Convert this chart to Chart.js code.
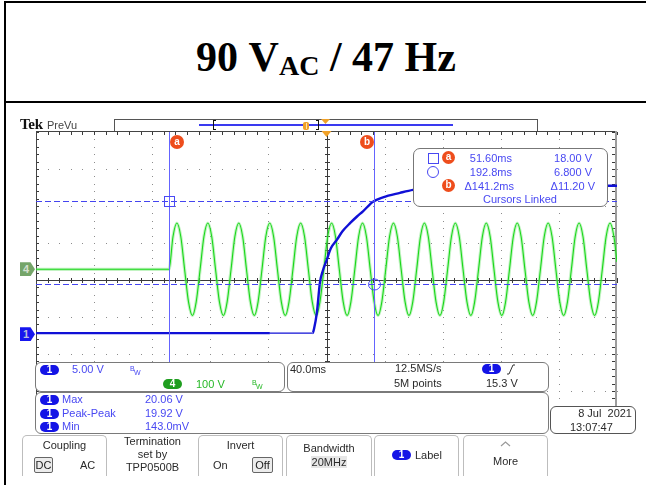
<!DOCTYPE html>
<html>
<head>
<meta charset="utf-8">
<script src="https://cdn.jsdelivr.net/npm/chart.js@4.4.1/dist/chart.umd.min.js"></script>
<style>
  html, body { margin: 0; padding: 0; background: #fff; width: 646px; height: 485px; overflow: hidden; }
  body { position: relative; font-family: "Liberation Sans", Arial, sans-serif; color: #333; }
  .abs { position: absolute; }
  .rule { position: absolute; background: #000; }
  #title { position: absolute; left: 6px; top: 8px; width: 640px; height: 98px; display: flex; align-items: center; justify-content: center;
           font-family: "Liberation Serif", "Times New Roman", serif; font-weight: bold; font-size: 42px; color: #000; white-space: nowrap; }
  #title .sub { font-size: 28px; position: relative; top: 9px; }
  #scope { position: absolute; left: 0; top: 0; }
  .t { position: absolute; font-size: 11px; line-height: 12px; white-space: nowrap; }
  .blue { color: #4848f2; }
  .green { color: #26b826; }
  .dark { color: #2a2a2a; }
  .pill { position: absolute; width: 19px; height: 10px; border-radius: 5px; background: #1414e6; color: #fff;
          font-size: 10px; line-height: 10px; text-align: center; font-weight: bold; }
  .pill.g { background: #1f9e1f; }
  .box { position: absolute; box-sizing: border-box; background: #fff; border: 1px solid #7a7a7a; border-radius: 6px; }
  .btn { position: absolute; box-sizing: border-box; top: 435px; height: 41px; border: 1.5px solid #bdbdbd; border-bottom: none;
         border-radius: 5px 5px 0 0; background: #fff; }
  .key { position: absolute; box-sizing: border-box; border: 1px solid #666; border-radius: 2px; background: #ececec;
         font-size: 11px; line-height: 14px; text-align: center; color: #222; }
  .bw { position: absolute; font-size: 7px; line-height: 7px; }
  .badge { position: absolute; width: 13px; height: 13px; border-radius: 50%; background: #ee4d1c; color: #fff;
           font-size: 10px; line-height: 12px; text-align: center; font-weight: bold; }
  .tag { position: absolute; left: 20px; width: 15px; height: 14px; font-size: 11px; line-height: 14px; text-indent: 3px; font-weight: bold;
         clip-path: polygon(0 0, 70% 0, 100% 50%, 70% 100%, 0 100%); }
</style>
</head>
<body>
<!-- page frame and heading -->
<div class="rule" style="left:4px;top:1px;width:2px;height:484px"></div>
<div class="rule" style="left:4px;top:1px;width:642px;height:2px"></div>
<div class="rule" style="left:4px;top:101px;width:642px;height:2px"></div>
<div id="title">90&nbsp;V<span class="sub">AC</span>&nbsp;/&nbsp;47&nbsp;Hz</div>

<canvas id="scope" width="646" height="485"></canvas>

<!-- header: logo and record overview bar -->
<div class="abs" style="left:20px;top:117px;font-family:'Liberation Serif',serif;font-weight:bold;font-size:15px;line-height:15px;color:#111;letter-spacing:-0.3px">Tek</div>
<div class="t dark" style="left:47px;top:119px;color:#444">PreVu</div>
<div class="abs" style="left:114px;top:119px;width:424px;height:12px;box-sizing:border-box;border:1px solid #555;border-bottom:none;background:#fff"></div>
<div class="abs" style="left:199px;top:124px;width:254px;height:1.5px;background:#3a3af0"></div>
<div class="abs" style="left:213px;top:120px;width:3px;height:10px;border:1.5px solid #111;border-right:none;box-sizing:border-box"></div>
<div class="abs" style="left:316px;top:120px;width:3px;height:10px;border:1.5px solid #111;border-left:none;box-sizing:border-box"></div>
<div class="abs" style="left:303px;top:122px;width:6px;height:8px;border-radius:2px;background:#f0a128"></div>
<div class="abs" style="left:305.5px;top:123px;width:1px;height:6px;background:#fde3b0"></div>
<svg class="abs" style="left:321px;top:119px" width="10" height="6"><polygon points="0,0 9,0 4.5,5" fill="#f0a128"/></svg>

<!-- channel ground markers (placed from the scales) -->
<div id="tag4" class="tag" style="background:#75a569;color:#d5e0d0">4</div>
<div id="tag1" class="tag" style="background:#1616ee;color:#b8bedc">1</div>

<!-- cursor readout -->
<div class="box" style="left:413px;top:148px;width:195px;height:59px;border:1.5px solid #777;border-radius:7px"></div>
<div class="abs" style="left:428px;top:153px;width:11px;height:11px;box-sizing:border-box;border:1px solid #4848f2"></div>
<div class="badge" style="left:442px;top:151px">a</div>
<div class="t blue" style="right:134px;top:152px" id="curT0"></div>
<div class="t blue" style="right:54px;top:152px" id="curV0"></div>
<div class="abs" style="left:427px;top:166px;width:12px;height:12px;box-sizing:border-box;border:1px solid #4848f2;border-radius:50%"></div>
<div class="t blue" style="right:134px;top:166px" id="curT1"></div>
<div class="t blue" style="right:54px;top:166px" id="curV1"></div>
<div class="badge" style="left:442px;top:179px">b</div>
<div class="t blue" style="right:132px;top:180px" id="curDT"></div>
<div class="t blue" style="right:51px;top:180px" id="curDV"></div>
<div class="t blue" style="left:483px;top:193px">Cursors Linked</div>

<!-- vertical / horizontal readouts -->
<div class="box" style="left:35px;top:362px;width:250px;height:30px"></div>
<div class="pill" style="left:40px;top:365px">1</div>
<div class="t blue" style="left:72px;top:363px" id="ch1Scale"></div>
<div class="bw blue" style="left:130px;top:365px">B</div><div class="bw blue" style="left:134px;top:369px">W</div>
<div class="pill g" style="left:163px;top:379px">4</div>
<div class="t green" style="left:196px;top:378px" id="ch4Scale"></div>
<div class="bw green" style="left:252px;top:379px">B</div><div class="bw green" style="left:256px;top:383px">W</div>

<div class="box" style="left:287px;top:362px;width:262px;height:30px"></div>
<div class="t dark" style="left:290px;top:363px" id="timeScale"></div>
<div class="t dark" style="left:395px;top:362px">12.5MS/s</div>
<div class="t dark" style="left:394px;top:377px">5M points</div>
<div class="pill" style="left:482px;top:364px">1</div>
<svg class="abs" style="left:506px;top:364px" width="10" height="11"><polyline points="1,10 3,10 7,1 9,1" fill="none" stroke="#333" stroke-width="1"/></svg>
<div class="t dark" style="left:486px;top:377px">15.3 V</div>

<div class="box" style="left:35px;top:392px;width:514px;height:42px"></div>
<div id="meas"></div>

<div class="box" style="left:550px;top:406px;width:86px;height:28px;border-color:#555"></div>
<div class="t dark" style="right:14px;top:407px">8 Jul&nbsp;&nbsp;2021</div>
<div class="t dark" style="left:570px;top:421px">13:07:47</div>

<!-- soft-key row -->
<div class="btn" style="left:22px;width:85px"></div>
<div class="t dark" style="left:22px;width:85px;text-align:center;top:439px">Coupling</div>
<div class="key" style="left:34px;top:457px;width:19px;height:16px">DC</div>
<div class="t dark" style="left:80px;top:459px">AC</div>

<div class="t dark" style="left:108px;width:89px;text-align:center;top:435px">Termination</div>
<div class="t dark" style="left:108px;width:89px;text-align:center;top:448px">set by</div>
<div class="t dark" style="left:108px;width:89px;text-align:center;top:461px">TPP0500B</div>

<div class="btn" style="left:198px;width:85px"></div>
<div class="t dark" style="left:198px;width:85px;text-align:center;top:439px">Invert</div>
<div class="t dark" style="left:213px;top:459px">On</div>
<div class="key" style="left:252px;top:457px;width:21px;height:16px">Off</div>

<div class="btn" style="left:286px;width:86px"></div>
<div class="t dark" style="left:286px;width:86px;text-align:center;top:442px">Bandwidth</div>
<div class="t dark" style="left:311px;width:36px;text-align:center;top:456px;background:#e6e6e6">20MHz</div>

<div class="btn" style="left:374px;width:85px"></div>
<div class="pill" style="left:392px;top:450px">1</div>
<div class="t dark" style="left:415px;top:449px">Label</div>

<div class="btn" style="left:463px;width:85px"></div>
<svg class="abs" style="left:500px;top:441px" width="11" height="6"><polyline points="1,5 5.5,1 10,5" fill="none" stroke="#999" stroke-width="1.2"/></svg>
<div class="t dark" style="left:463px;width:85px;text-align:center;top:455px">More</div>

<script>
// ---- acquisition settings ----
const timePerDiv = 40;            // ms/div
const timeStart = -40;            // ms at left graticule edge
const timeDivs = 10;
const voltDivs = 8;
const ch1PerDiv = 5;              // V/div
const ch4PerDiv = 100;            // V/div
const ch1Center = 7.32;           // V at graticule centre (channel 1 offset)
const ch4Center = -28.9;          // V at graticule centre (channel 4 offset)
const triggerTime = 160;          // ms

// ---- cursors ----
const cursorTimes = [51.6, 192.8];    // ms
const cursorVolts = [18.0, 6.8];      // V, channel 1

// ---- channel 1: converter output (V) ----
const ch1Time = [-40, 121, 150.5, 151.5, 153.3, 155.5, 157.5, 160.1, 163.0, 167.0, 171.0, 176.2, 181.0,
                 185.1, 192.0, 198.9, 210.6, 219.6, 235.0, 260.0, 300.0, 360.0];
const ch1Volt = [0.14, 0.14, 0.14, 0.8, 2.8, 7.0, 8.6, 10.0, 11.6, 12.7, 13.9, 15.0, 15.9,
                 16.6, 17.9, 18.5, 19.1, 19.5, 19.85, 20.0, 20.05, 20.06];
const ch1ThinFrom = 121, ch1ThinTo = 150.5;

// ---- channel 4: AC mains input (V) ----
const ch4Time = [
  -40, 51.6, 54.3,
  57.0, 59.7, 62.3, 65.0, 67.7, 70.3, 73.0, 75.6,
  78.3, 81.0, 83.6, 86.3, 89.0, 91.6, 94.3, 96.9,
  99.6, 102.3, 104.9, 107.6, 110.3, 112.9, 115.6, 118.2,
  120.9, 123.6, 126.2, 128.9, 131.6, 134.2, 136.9, 139.5,
  142.2, 144.9, 147.5, 150.2, 152.9, 155.5, 158.2, 160.8,
  163.5, 166.2, 168.8, 171.5, 174.2, 176.8, 179.5, 182.1,
  184.8, 187.5, 190.1, 192.8, 195.5, 198.1, 200.8, 203.4,
  206.1, 208.8, 211.4, 214.1, 216.8, 219.4, 222.1, 224.7,
  227.4, 230.1, 232.7, 235.4, 238.1, 240.7, 243.4, 246.0,
  248.7, 251.4, 254.0, 256.7, 259.4, 262.0, 264.7, 267.3,
  270.0, 272.7, 275.3, 278.0, 280.7, 283.3, 286.0, 288.6,
  291.3, 294.0, 296.6, 299.3, 302.0, 304.6, 307.3, 309.9,
  312.6, 315.3, 317.9, 320.6, 323.3, 325.9, 328.6, 331.2,
  333.9, 336.6, 339.2, 341.9, 344.6, 347.2, 349.9, 352.5,
  355.2, 357.9, 360.0
];
const ch4Volt = [
  0, 0, 88,
  125, 88, 0, -88, -125, -88, 0, 88,
  125, 88, 0, -88, -125, -88, 0, 88,
  125, 88, 0, -88, -125, -88, 0, 88,
  125, 88, 0, -88, -125, -88, 0, 88,
  125, 88, 0, -88, -125, -88, 0, 88,
  125, 88, 0, -88, -125, -88, 0, 88,
  125, 88, 0, -88, -125, -88, 0, 88,
  125, 88, 0, -88, -125, -88, 0, 88,
  125, 88, 0, -88, -125, -88, 0, 88,
  125, 88, 0, -88, -125, -88, 0, 88,
  125, 88, 0, -88, -125, -88, 0, 88,
  125, 88, 0, -88, -125, -88, 0, 88,
  125, 88, 0, -88, -125, -88, 0, 88,
  125, 88, 0, -88, -125, -88, 0, 88,
  125, 88, 20
];

// ---- measurements ----
const measNames = ['Max', 'Peak-Peak', 'Min'];
const measValues = ['20.06 V', '19.92 V', '143.0mV'];

// readout texts
const fmtMs = v => (v < 100 ? v.toFixed(2) : v.toFixed(1)) + 'ms';
const fmtV = v => (v < 10 ? v.toFixed(3) : v.toFixed(2)) + ' V';
document.getElementById('curT0').textContent = fmtMs(cursorTimes[0]);
document.getElementById('curT1').textContent = fmtMs(cursorTimes[1]);
document.getElementById('curV0').textContent = fmtV(cursorVolts[0]);
document.getElementById('curV1').textContent = fmtV(cursorVolts[1]);
document.getElementById('curDT').textContent = '\u0394' + fmtMs(cursorTimes[1] - cursorTimes[0]);
document.getElementById('curDV').textContent = '\u0394' + fmtV(cursorVolts[0] - cursorVolts[1]);
document.getElementById('ch1Scale').textContent = ch1PerDiv.toFixed(2) + ' V';
document.getElementById('ch4Scale').textContent = ch4PerDiv + ' V';
document.getElementById('timeScale').textContent = timePerDiv.toFixed(1) + 'ms';

const meas = document.getElementById('meas');
measNames.forEach((n, i) => {
  const cy = 399 + i * 13.5;
  meas.insertAdjacentHTML('beforeend',
    `<div class="pill" style="left:40px;top:${cy - 4}px">1</div>` +
    `<div class="t blue" style="left:62px;top:${cy - 6}px">${n}</div>` +
    `<div class="t blue" style="left:145px;top:${cy - 6}px">${measValues[i]}</div>`);
});

const pts = (xs, ys) => xs.map((x, i) => ({ x, y: ys[i] }));

// dotted graticule with centre cross and edge ticks
const graticule = {
  id: 'graticule',
  beforeDatasetsDraw(chart) {
    const { ctx, chartArea: a, scales } = chart;
    const xs = scales.x;
    const dx = (a.right - a.left) / timeDivs;
    const dy = (a.bottom - a.top) / voltDivs;
    ctx.save();
    ctx.fillStyle = '#8c8c8c';
    for (let i = 1; i < timeDivs; i++) {
      if (i === timeDivs / 2) continue;
      const x = Math.round(xs.getPixelForValue(timeStart + i * timePerDiv));
      for (let k = 0; k <= voltDivs * 5; k++) ctx.fillRect(x, Math.round(a.top + k * dy / 5), 1, 1);
    }
    for (let j = 1; j < voltDivs; j++) {
      if (j === voltDivs / 2) continue;
      const y = Math.round(a.top + j * dy);
      for (let k = 0; k <= timeDivs * 5; k++) ctx.fillRect(Math.round(a.left + k * dx / 5), y, 1, 1);
    }
    const cx = Math.round(xs.getPixelForValue(timeStart + timeDivs / 2 * timePerDiv));
    const cy = Math.round((a.top + a.bottom) / 2);
    ctx.fillStyle = '#3a3a3a';
    ctx.fillRect(a.left, cy, a.right - a.left, 1);
    ctx.fillRect(cx, a.top, 1, a.bottom - a.top);
    for (let k = 0; k <= timeDivs * 5; k++) {
      const x = Math.round(a.left + k * dx / 5);
      ctx.fillRect(x, cy - 2, 1, 5);
      ctx.fillRect(x, a.top, 1, 3);
    }
    for (let k = 0; k <= voltDivs * 5; k++) {
      const y = Math.round(a.top + k * dy / 5);
      ctx.fillRect(cx - 2, y, 5, 1);
      ctx.fillRect(a.left, y, 3, 1);
      ctx.fillRect(a.right - 5, y, 3, 1);
    }
    ctx.fillStyle = '#444';
    ctx.fillRect(a.left, a.top - 1, a.right - a.left, 1);
    ctx.fillRect(a.left, a.top, 1, a.bottom - a.top);
    ctx.fillStyle = '#9c9c9c';
    ctx.fillRect(a.right - 2, a.top - 1, 2, a.bottom - a.top + 1);
    ctx.restore();
  },
  afterDatasetsDraw(chart) {
    const { ctx, chartArea: a, scales } = chart;
    ctx.save();
    // cursor bars
    ctx.strokeStyle = '#6464ff';
    ctx.lineWidth = 1;
    const cxs = cursorTimes.map(t => Math.round(scales.x.getPixelForValue(t)) + 0.5);
    const cys = cursorVolts.map(v => Math.round(scales.y1.getPixelForValue(v)) + 0.5);
    cxs.forEach(x => { ctx.beginPath(); ctx.moveTo(x, a.top); ctx.lineTo(x, a.bottom); ctx.stroke(); });
    ctx.setLineDash([6, 3]);
    ctx.strokeStyle = '#4444f0';
    cys.forEach(y => { ctx.beginPath(); ctx.moveTo(a.left, y); ctx.lineTo(a.right, y); ctx.stroke(); });
    ctx.setLineDash([]);
    ctx.strokeStyle = '#4a4af5';
    ctx.strokeRect(cxs[0] - 5, cys[0] - 5, 10, 10);
    ctx.beginPath(); ctx.ellipse(cxs[1], cys[1], 6, 5.5, 0, 0, Math.PI * 2); ctx.stroke();
    // cursor badges
    [['a', cxs[0] + 7.5], ['b', cxs[1] - 7.5]].forEach(([s, x]) => {
      ctx.fillStyle = '#ee4d1c';
      ctx.beginPath(); ctx.arc(x, a.top + 10, 7, 0, Math.PI * 2); ctx.fill();
      ctx.fillStyle = '#fff';
      ctx.font = 'bold 10px "Liberation Sans", Arial, sans-serif';
      ctx.textAlign = 'center'; ctx.textBaseline = 'middle';
      ctx.fillText(s, x, a.top + 10);
    });
    // trigger position marker
    const tx = scales.x.getPixelForValue(triggerTime);
    ctx.fillStyle = '#f0a128';
    ctx.beginPath(); ctx.moveTo(tx - 5, a.top - 1); ctx.lineTo(tx + 5, a.top - 1); ctx.lineTo(tx, a.top + 5); ctx.closePath(); ctx.fill();
    ctx.restore();
  }
};

const chart = new Chart(document.getElementById('scope'), {
  type: 'line',
  data: {
    datasets: [
      {
        label: 'CH1', yAxisID: 'y1', data: pts(ch1Time, ch1Volt),
        borderColor: '#1010d6', borderWidth: 2.4, cubicInterpolationMode: 'monotone', pointRadius: 0,
        segment: { borderWidth: c => (c.p0.parsed.x >= ch1ThinFrom && c.p1.parsed.x <= ch1ThinTo) ? 1.2 : 2.4 },
        order: 0
      },
      {
        label: 'CH4', yAxisID: 'y4', data: pts(ch4Time, ch4Volt),
        borderColor: '#1ad81a', borderWidth: 1.1, cubicInterpolationMode: 'monotone', pointRadius: 0, order: 1
      },
      {
        label: 'CH4 glow', yAxisID: 'y4', data: pts(ch4Time, ch4Volt),
        borderColor: 'rgba(120,228,120,0.45)', borderWidth: 3.2, cubicInterpolationMode: 'monotone', pointRadius: 0, order: 2
      }
    ]
  },
  options: {
    responsive: false, animation: false, devicePixelRatio: 1,
    layout: { padding: { left: 36, top: 132, right: 29, bottom: 57 } },
    plugins: { legend: { display: false }, tooltip: { enabled: false } },
    scales: {
      x: { type: 'linear', min: timeStart, max: timeStart + timeDivs * timePerDiv, display: false },
      y1: { type: 'linear', min: ch1Center - voltDivs / 2 * ch1PerDiv, max: ch1Center + voltDivs / 2 * ch1PerDiv, display: false },
      y4: { type: 'linear', min: ch4Center - voltDivs / 2 * ch4PerDiv, max: ch4Center + voltDivs / 2 * ch4PerDiv, display: false }
    }
  },
  plugins: [graticule]
});

// channel ground markers follow the channel offsets
document.getElementById('tag1').style.top = (chart.scales.y1.getPixelForValue(0) - 7) + 'px';
document.getElementById('tag4').style.top = (chart.scales.y4.getPixelForValue(0) - 7) + 'px';
</script>
</body>
</html>
